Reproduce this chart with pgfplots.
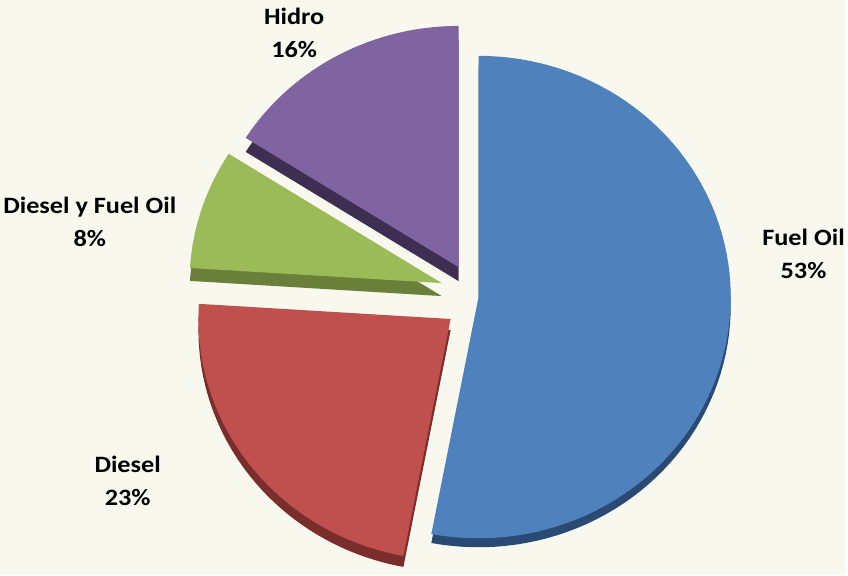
\documentclass[border=0pt]{standalone}
\usepackage{pgfplots}
\pgfplotsset{compat=1.18}
\usepackage{fontspec}
\setmainfont{Carlito}
\definecolor{bg}{HTML}{F8F8EE}
\definecolor{cblue}{HTML}{4F81BD}
\definecolor{cbluedk}{HTML}{2B4A73}
\definecolor{cred}{HTML}{C0504D}
\definecolor{creddk}{HTML}{7A2E2C}
\definecolor{cgreen}{HTML}{9BBB59}
\definecolor{cgreendk}{HTML}{6A803A}
\definecolor{cpurple}{HTML}{8064A2}
\definecolor{cpurpledk}{HTML}{3E2F52}
% #1 cumulative percent before slice, #2 percent, #3 cx, #4 cy, #5 top colour, #6 side colour, #7 depth
\newcommand{\slice}[7]{%
  \addplot[fill=#6, draw=none, domain={90-3.6*(#1+#2)}:{90-3.6*(#1)}, samples=80, variable=\t]
    ({#3+253*cos(\t)}, {#4+#7-242*sin(\t)}) -- (axis cs:#3,{#4+#7}) -- cycle;
  \addplot[fill=#5, draw=none, domain={90-3.6*(#1+#2)}:{90-3.6*(#1)}, samples=80, variable=\t]
    ({#3+253*cos(\t)}, {#4-242*sin(\t)}) -- (axis cs:#3,#4) -- cycle;
}
\newcommand{\lab}[1]{\scalebox{1.12}[1]{#1}}
\begin{document}
\begin{tikzpicture}
\begin{axis}[scale only axis, width=848bp, height=577bp,
  xmin=0, xmax=848, ymin=0, ymax=577, y dir=reverse,
  hide axis, clip=false]
\fill[bg] (axis cs:0,0) rectangle (axis cs:848,577);
% Fuel Oil 53
\slice{0}{53}{480}{298}{cblue}{cbluedk}{9}
% Diesel 23
\slice{53}{23}{452}{320}{cred}{creddk}{11}
% Diesel y Fuel Oil 8
\slice{76}{8}{443}{284}{cgreen}{cgreendk}{13}
% Hidro 16
\slice{84}{16}{460}{268}{cpurple}{cpurpledk}{14}
\begin{scope}[every node/.style={font=\bfseries\fontsize{23.5bp}{33bp}\selectfont, align=center, text=black}]
\node at (axis cs:295,33) {\lab{Hidro}\\\lab{16\%}};
\node at (axis cs:90,223) {\lab{Diesel y Fuel Oil}\\\lab{8\%}};
\node at (axis cs:806,255) {\lab{Fuel Oil}\\\lab{53\%}};
\node at (axis cs:128,482) {\lab{Diesel}\\\lab{23\%}};
\end{scope}
\end{axis}
\end{tikzpicture}
\end{document}
